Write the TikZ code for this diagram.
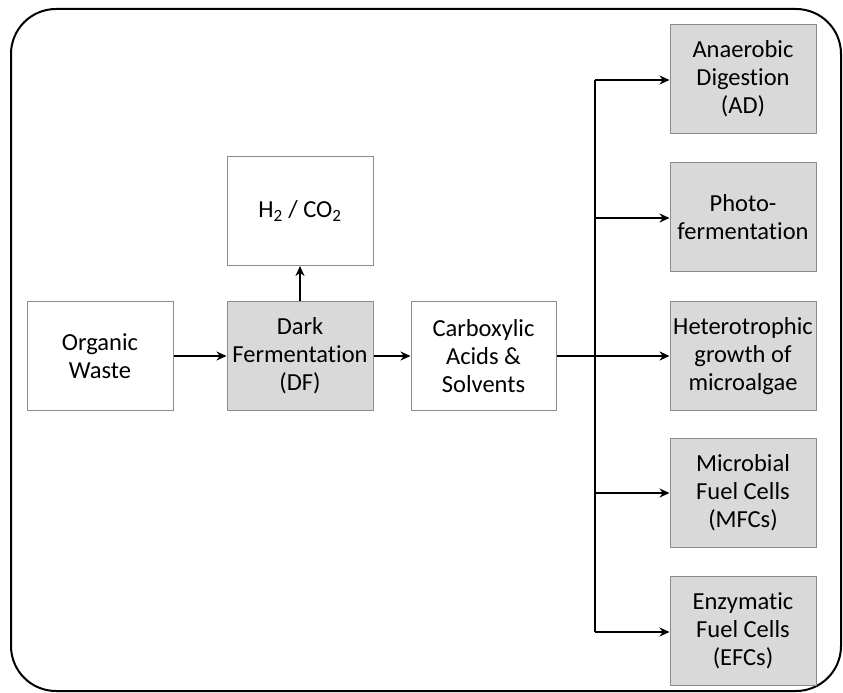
\documentclass[tikz,border=0pt]{standalone}
\usepackage{fontspec}
\setmainfont{Carlito}[Ligatures=NoCommon]
\usetikzlibrary{arrows.meta}
\definecolor{boxgray}{HTML}{D9D9D9}
\definecolor{edgegray}{HTML}{8C8C8C}
\begin{document}
\begin{tikzpicture}[x=1pt,y=-1pt,
  box/.style={draw=edgegray, line width=1pt, minimum width=146pt, minimum height=109pt,
    align=center, inner sep=2pt, font=\fontsize{24.5}{28}\selectfont},
  wbox/.style={box, fill=white},
  gbox/.style={box, fill=boxgray},
  conn/.style={line width=2.3pt, -{Stealth[length=10pt,width=9pt]}},
  plain/.style={line width=2.3pt}]
\useasboundingbox (0,0) rectangle (843,693);
\draw[line width=2pt, rounded corners=45pt] (11,9) rectangle (841,691);
\node[wbox] (ow) at (100,356) {Organic\\Waste};
\node[gbox] (df) at (300,356) {Dark\\Fermentation\\(DF)};
\node[wbox] (h2) at (300,211) {H\textsubscript{2} / CO\textsubscript{2}};
\node[wbox, minimum width=145pt] (ca) at (483.5,356) {Carboxylic\\Acids \&\\Solvents};
\node[gbox] (ad) at (743,79) {Anaerobic\\Digestion\\(AD)};
\node[gbox] (pf) at (743,217) {Photo-\\fermentation};
\node[gbox] (ht) at (743,356) {Heterotrophic\\growth of\\microalgae};
\node[gbox] (mf) at (743,493) {Microbial\\Fuel Cells\\(MFCs)};
\node[gbox] (ef) at (743,631) {Enzymatic\\Fuel Cells\\(EFCs)};
\coordinate (top) at (595,80);
\coordinate (bot) at (595,632);
\coordinate (pfy) at (595,218);
\coordinate (mfy) at (595,493);
\draw[conn] (ow) -- (df);
\draw[conn] (df) -- (h2);
\draw[conn] (df) -- (ca);
\draw[plain] (top) -- (bot);
\draw[conn] (ca.east) -- (ht.west);
\draw[conn] (top) -- (ad.west |- top);
\draw[conn] (pfy) -- (pf.west |- pfy);
\draw[conn] (mfy) -- (mf.west |- mfy);
\draw[conn] (bot) -- (ef.west |- bot);
\end{tikzpicture}
\end{document}
